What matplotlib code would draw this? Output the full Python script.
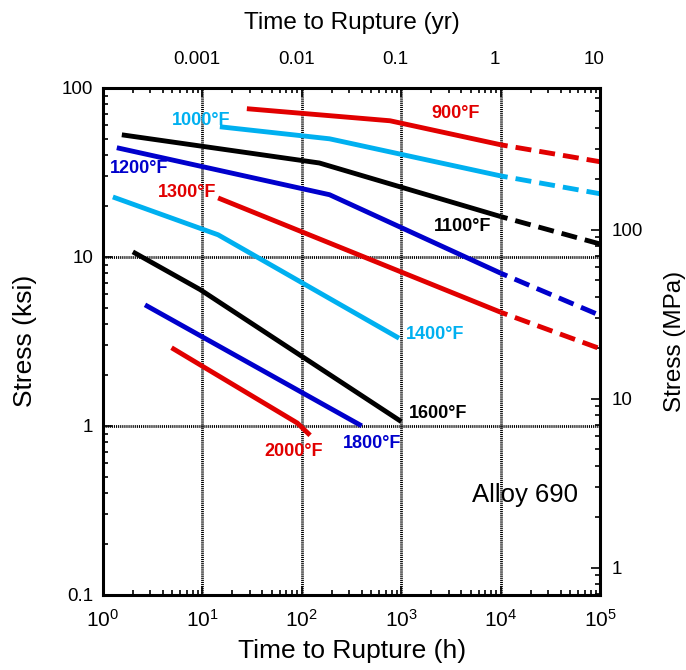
import matplotlib
matplotlib.use('Agg')
import matplotlib.pyplot as plt
from matplotlib.ticker import LogLocator, NullLocator, NullFormatter

plt.rcParams['font.family'] = ['Liberation Sans', 'DejaVu Sans']
plt.rcParams['mathtext.fontset'] = 'custom'
plt.rcParams['mathtext.rm'] = 'Liberation Sans'
plt.rcParams['lines.scale_dashes'] = False

# rupture curves: time (h) vs stress (ksi), solid part
h_900 = [28, 770, 1e4]
s_900 = [75.2, 63.8, 46.0]
h_1000 = [15, 190, 1e4]
s_1000 = [58.8, 49.9, 30.1]
h_1100 = [1.55, 150, 1e4]
s_1100 = [52.7, 35.9, 17.3]
h_1200 = [1.38, 190, 1e4]
s_1200 = [44.2, 23.3, 8.0]
h_1300 = [14.4, 1e4]
s_1300 = [22.3, 4.7]
h_1400 = [1.26, 14.4, 950]
s_1400 = [22.6, 13.5, 3.3]
h_1600 = [2.0, 9.5, 1000]
s_1600 = [10.7, 6.4, 1.06]
h_1800 = [2.65, 400]
s_1800 = [5.2, 1.0]
h_2000 = [4.9, 90, 121]
s_2000 = [2.9, 1.04, 0.88]

# extrapolated (dashed) parts
h_ext = [1e4, 1e5]
ext_900 = [46.0, 36.5]
ext_1000 = [30.1, 23.6]
ext_1100 = [17.3, 11.9]
ext_1200 = [8.0, 4.5]
ext_1300 = [4.7, 2.86]

red = '#E10000'
cyan = '#00B0F0'
blue = '#0000CC'
black = '#000000'

fig = plt.figure(figsize=(6.86, 6.70), dpi=100)
ax = fig.add_axes([0.150, 0.112, 0.725, 0.757])

solid = [(h_900, s_900, red), (h_1000, s_1000, cyan), (h_1100, s_1100, black),
         (h_1200, s_1200, blue), (h_1300, s_1300, red), (h_1400, s_1400, cyan),
         (h_1600, s_1600, black), (h_1800, s_1800, blue), (h_2000, s_2000, red)]
for h, s, c in solid:
    ax.plot(h, s, color=c, lw=3.5, solid_capstyle='butt', solid_joinstyle='round')

dashed = [(ext_900, red), (ext_1000, cyan), (ext_1100, black), (ext_1200, blue), (ext_1300, red)]
for s, c in dashed:
    ax.plot(h_ext, s, color=c, lw=3.5, linestyle=(6.5, (11.5, 5.8)), dash_capstyle='butt')

labels = [('900°F', 3477, 70.2, red), ('1000°F', 9.68, 63.8, cyan),
          ('1100°F', 4090, 15.1, black), ('1200°F', 2.3, 33.2, blue),
          ('1300°F', 7.0, 23.9, red), ('1400°F', 2188, 3.45, cyan),
          ('1600°F', 2344, 1.19, black), ('1800°F', 508, 0.792, blue),
          ('2000°F', 83.5, 0.701, red)]
for t, x, y, c in labels:
    ax.text(x, y, t, color=c, fontsize=13, fontweight='bold', ha='center', va='center')

ax.text(17600, 0.391, 'Alloy 690', fontsize=18.5, ha='center', va='center')

ax.set_xscale('log')
ax.set_yscale('log')
ax.set_xlim(1, 1e5)
ax.set_ylim(0.1, 100)

ax.grid(True, which='major', color='black', linestyle=(0, (0.8, 0.7)), linewidth=2.0)
ax.set_yticks([0.1, 1, 10, 100], ['0.1', '1', '10', '100'])
ax.yaxis.set_minor_locator(LogLocator(base=10, subs=range(2, 10)))
ax.yaxis.set_minor_formatter(NullFormatter())
ax.xaxis.set_minor_locator(LogLocator(base=10, subs=range(2, 10)))
ax.xaxis.set_minor_formatter(NullFormatter())
ax.tick_params(which='both', direction='in', top=True, right=False, width=1.2)
ax.tick_params(which='major', length=6.5)
ax.tick_params(which='minor', length=3.8)
ax.tick_params(axis='x', labelsize=15, pad=10)
ax.tick_params(axis='y', labelsize=13.5, pad=7)
for sp in ax.spines.values():
    sp.set_linewidth(2.2)

ax.set_xlabel('Time to Rupture (h)', fontsize=19, labelpad=6)
ax.set_ylabel('Stress (ksi)', fontsize=19, labelpad=18)

# top axis in years
top = ax.secondary_xaxis('top', functions=(lambda h: h / 8766.0, lambda y: y * 8766.0))
top.set_xticks([0.001, 0.01, 0.1, 1, 10], ['0.001', '0.01', '0.1', '1', '10'])
top.xaxis.set_minor_locator(NullLocator())
top.tick_params(length=0, labelsize=13.5, pad=14)
top.set_xlabel('Time to Rupture (yr)', fontsize=17.5, labelpad=16)

# right axis in MPa
right = ax.secondary_yaxis('right', functions=(lambda k: k * 6.895, lambda m: m / 6.895))
right.set_yticks([1, 10, 100], ['1', '10', '100'])
right.yaxis.set_minor_locator(LogLocator(base=10, subs=range(2, 10)))
right.yaxis.set_minor_formatter(NullFormatter())
right.tick_params(which='both', direction='in', width=1.2, labelsize=13.5, pad=8)
right.tick_params(which='major', length=6.5)
right.tick_params(which='minor', length=3.8)
right.set_ylabel('Stress (MPa)', fontsize=17.5, labelpad=15)

fig.savefig('out.png', dpi=100)
